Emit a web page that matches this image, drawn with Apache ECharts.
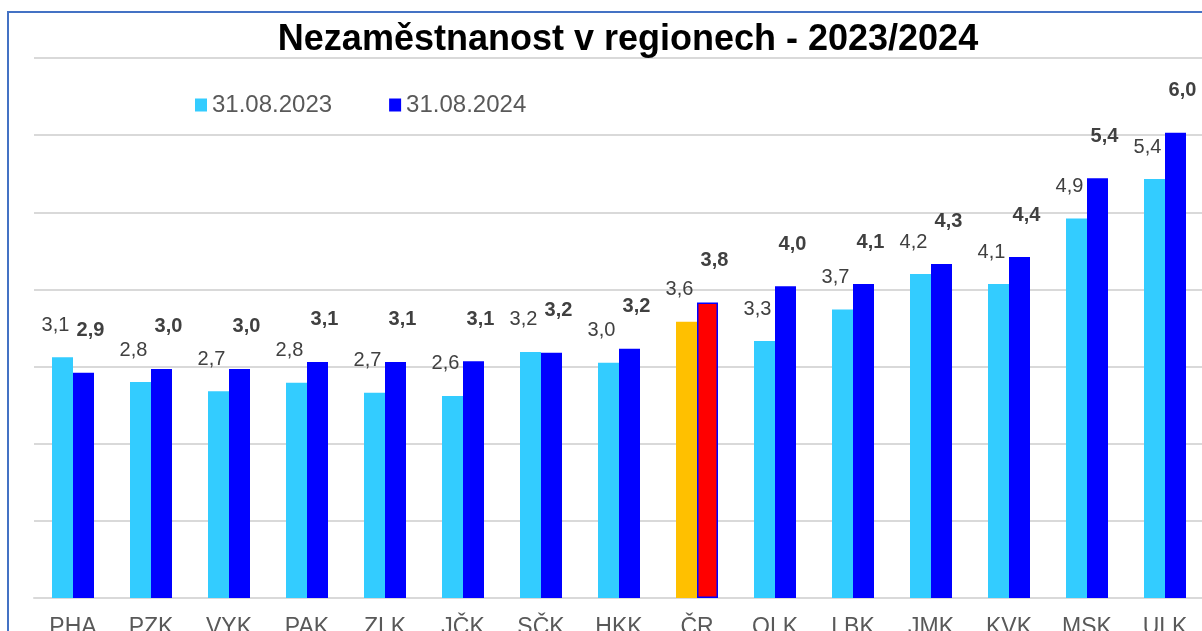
<!DOCTYPE html>
<html>
<head>
<meta charset="utf-8">
<script src="https://cdn.jsdelivr.net/npm/echarts@6/dist/echarts.min.js"></script>
<style>
  html, body { margin: 0; padding: 0; background: #fff; }
  #chart { width: 1202px; height: 631px; }
</style>
</head>
<body>
<div id="chart"></div>
<script>
const regions = ['PHA', 'PZK', 'VYK', 'PAK', 'ZLK', 'JČK', 'SČK', 'HKK', 'ČR', 'OLK', 'LBK', 'JMK', 'KVK', 'MSK', 'ULK']
const values2023 = [3.12, 2.80, 2.68, 2.79, 2.66, 2.62, 3.19, 3.05, 3.58, 3.33, 3.74, 4.20, 4.07, 4.92, 5.43]
const values2024 = [2.92, 2.97, 2.97, 3.06, 3.06, 3.07, 3.18, 3.23, 3.83, 4.04, 4.07, 4.33, 4.42, 5.44, 6.03]
const legendNames = ['31.08.2023', '31.08.2024']

const chart = echarts.init(document.getElementById('chart'))

const fmt = (p) => p.value.toFixed(1).replace('.', ',')

const data2023 = values2023.map((v, i) => {
  if (regions[i] === 'ČR') return {value: v, itemStyle: {color: '#FFC000'}}
  return v
})
const data2024 = values2024.map((v, i) => {
  if (regions[i] === 'ČR') return {value: v, itemStyle: {color: '#FF0000', borderColor: '#0000FF', borderWidth: 1.5}}
  return v
})

const option = {
  animation: false,
  textStyle: {fontFamily: 'Liberation Sans, Arial, sans-serif'},
  title: {
    text: 'Nezaměstnanost v regionech - 2023/2024',
    left: 623,
    textAlign: 'center',
    top: 17,
    textStyle: {fontSize: 36, fontWeight: 'bold', color: '#000'}
  },
  legend: {
    data: legendNames,
    left: 190,
    top: 88,
    icon: 'rect',
    itemWidth: 12,
    itemHeight: 13,
    itemGap: 57,
    textStyle: {fontSize: 24, color: '#595959'}
  },
  grid: {left: 34, top: 58, width: 1170, height: 540, containLabel: false, outerBoundsMode: 'none'},
  xAxis: {
    type: 'category',
    data: regions,
    axisTick: {show: false},
    axisLine: {lineStyle: {color: '#D9D9D9', width: 2}},
    axisLabel: {fontSize: 23, color: '#595959', margin: 18}
  },
  yAxis: {
    type: 'value',
    min: 0,
    max: 7,
    interval: 1,
    axisLabel: {show: false},
    axisLine: {show: false},
    axisTick: {show: false},
    splitLine: {lineStyle: {color: '#D9D9D9', width: 2}}
  },
  series: [
    {
      name: legendNames[0],
      type: 'bar',
      data: data2023,
      barWidth: 21,
      barGap: '0%',
      itemStyle: {color: '#33CCFF'},
      label: {
        show: true,
        position: 'top',
        distance: 22,
        offset: [-7, 0],
        fontSize: 20,
        color: '#404040',
        formatter: fmt
      }
    },
    {
      name: legendNames[1],
      type: 'bar',
      data: data2024,
      barWidth: 21,
      itemStyle: {color: '#0000FF'},
      label: {
        show: true,
        position: 'top',
        distance: 32,
        offset: [7, 0],
        fontSize: 20,
        fontWeight: 'bold',
        color: '#404040',
        formatter: fmt
      }
    }
  ],
  graphic: [
    {
      type: 'rect',
      silent: true,
      shape: {x: 8, y: 12, width: 1400, height: 800},
      style: {fill: 'none', stroke: '#4472C4', lineWidth: 2}
    }
  ]
}

chart.setOption(option)
</script>
</body>
</html>
